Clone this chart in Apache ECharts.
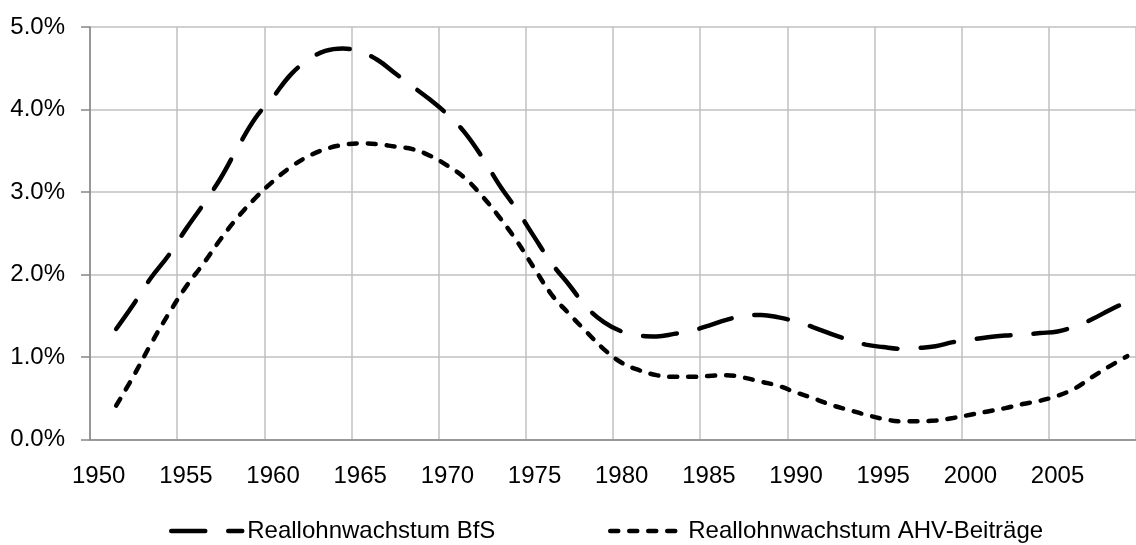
<!DOCTYPE html>
<html>
<head>
<meta charset="utf-8">
<script src="https://cdn.jsdelivr.net/npm/echarts@6/dist/echarts.min.js"></script>
<style>
  html, body { margin: 0; padding: 0; background: #fff; }
  #chart { width: 1136px; height: 545px; }
</style>
</head>
<body>
<div id="chart"></div>
<script>
// Jahre (Kategorien)
const years = [];
for (let y = 1950; y <= 2009; y++) years.push(String(y));

// Reallohnwachstum BfS, in %
const bfs = [null,
  1.34, 1.64, 1.96, 2.23, 2.55, 2.85, 3.17, 3.55, 3.90, 4.15,
  4.42, 4.60, 4.71, 4.74, 4.70, 4.60, 4.44, 4.28, 4.12, 3.94,
  3.72, 3.42, 3.08, 2.78, 2.45, 2.13, 1.87, 1.60, 1.42, 1.31,
  1.26, 1.25, 1.28, 1.32, 1.38, 1.45, 1.50, 1.51, 1.48, 1.43,
  1.36, 1.28, 1.21, 1.15, 1.12, 1.10, 1.11, 1.13, 1.18, 1.21,
  1.24, 1.26, 1.27, 1.29, 1.31, 1.37, 1.46, 1.57, 1.67];

// Reallohnwachstum AHV-Beiträge, in %
const ahv = [null,
  0.41, 0.77, 1.16, 1.52, 1.85, 2.13, 2.43, 2.70, 2.93, 3.13,
  3.30, 3.43, 3.52, 3.57, 3.59, 3.58, 3.55, 3.52, 3.44, 3.32,
  3.17, 2.95, 2.69, 2.40, 2.07, 1.75, 1.52, 1.30, 1.09, 0.93,
  0.84, 0.78, 0.76, 0.76, 0.77, 0.78, 0.75, 0.70, 0.65, 0.57,
  0.50, 0.42, 0.36, 0.30, 0.25, 0.22, 0.22, 0.23, 0.26, 0.30,
  0.34, 0.38, 0.43, 0.47, 0.53, 0.62, 0.76, 0.89, 1.01];

const names = ['Reallohnwachstum BfS', 'Reallohnwachstum AHV-Beiträge'];

const font = 'Liberation Sans, Arial, sans-serif';
const axisGrey = '#868686';
const gridGrey = '#c0c0c0';

const chart = echarts.init(document.getElementById('chart'));

// Legenden-Eintrag: nur Linie, kein Symbol
function legendFor(name, left, width) {
  return {
    data: [name],
    left: left, top: 519, padding: 0,
    itemWidth: width, itemHeight: 24,
    textStyle: { fontSize: 24, color: '#000', fontFamily: font },
    itemStyle: { color: 'rgba(0,0,0,0)', borderWidth: 0, opacity: 0 },
    lineStyle: { width: 4.5, cap: 'round' }
  };
}

const option = {
  animation: false,
  backgroundColor: '#fff',
  textStyle: { fontFamily: font },
  grid: { left: 90, right: -12, top: 27, bottom: 105.5 },
  legend: [
    legendFor(names[0], 169, 71),
    legendFor(names[1], 608, 73)
  ],
  xAxis: {
    type: 'category',
    data: years,
    boundaryGap: true,
    axisLine: { lineStyle: { color: axisGrey, width: 1.5 } },
    axisTick: { interval: 4, length: 8, lineStyle: { color: axisGrey, width: 1.5 } },
    axisLabel: { interval: 4, margin: 25, fontSize: 24, color: '#000', fontFamily: font },
    splitLine: { show: true, interval: 4, lineStyle: { color: gridGrey, width: 1.5 } }
  },
  yAxis: {
    type: 'value',
    min: 0, max: 5, interval: 1,
    axisLine: { show: true, lineStyle: { color: axisGrey, width: 1.5 } },
    axisTick: { show: true, length: 9, lineStyle: { color: axisGrey, width: 1.5 } },
    axisLabel: {
      margin: 25, fontSize: 24, color: '#000', fontFamily: font,
      formatter: v => v.toFixed(1) + '%'
    },
    splitLine: { lineStyle: { color: gridGrey, width: 1.5 } }
  },
  series: [
    {
      name: names[0],
      type: 'line',
      data: bfs,
      smooth: 0.4,
      symbol: 'none',
      lineStyle: { color: '#000', width: 4.5, type: [34, 23], cap: 'round' },
      itemStyle: { color: '#000' }
    },
    {
      name: names[1],
      type: 'line',
      data: ahv,
      smooth: 0.4,
      symbol: 'none',
      lineStyle: { color: '#000', width: 4.5, type: [8, 11], cap: 'round' },
      itemStyle: { color: '#000' }
    }
  ]
};

chart.setOption(option);
</script>
</body>
</html>
